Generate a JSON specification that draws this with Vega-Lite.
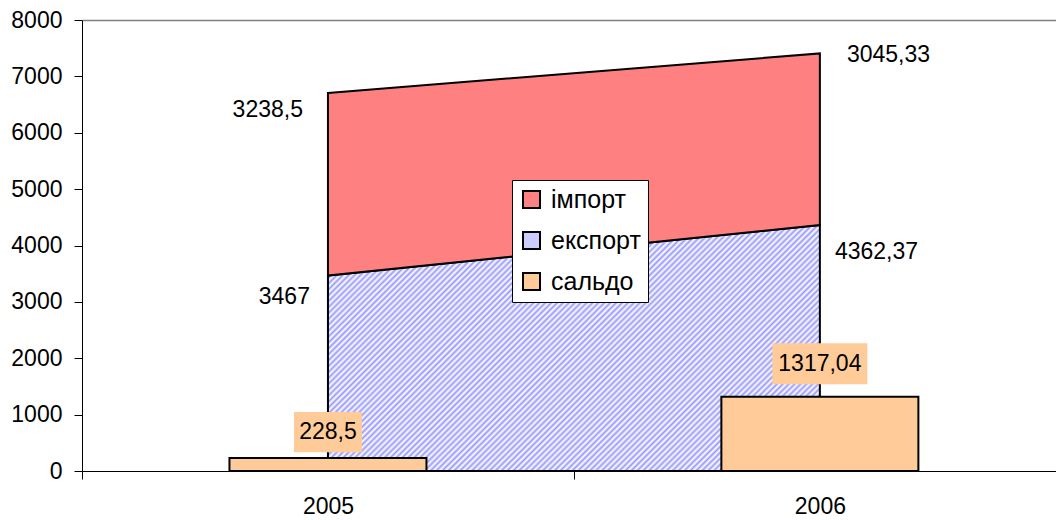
{
"$schema":"https://vega.github.io/schema/vega-lite/v6.json",
"width":974,"height":451,"autosize":"none",
"padding":{"left":82,"top":20,"right":0,"bottom":49},
"background":"white",
"config":{"view":{"stroke":null},"font":"Liberation Sans","text":{"font":"Liberation Sans","fontSize":23,"color":"black"}},
"data":{"values":[
{"year":2005,"series":"експорт","value":3467,"label":"3467"},
{"year":2006,"series":"експорт","value":4362.37,"label":"4362,37"},
{"year":2005,"series":"імпорт","value":3238.5,"label":"3238,5"},
{"year":2006,"series":"імпорт","value":3045.33,"label":"3045,33"},
{"year":2005,"series":"сальдо","value":228.5,"label":"228,5"},
{"year":2006,"series":"сальдо","value":1317.04,"label":"1317,04"}
]},
"encoding":{"x":{"field":"year","type":"quantitative","scale":{"domain":[2004.5,2006.48],"nice":false,"zero":false,"padding":0},
"axis":{"title":null,"values":[2004.5,2005,2005.5,2006],"labelExpr":"datum.value == 2005 ? '2005' : (datum.value == 2006 ? '2006' : '')",
"tickOpacity":{"condition":{"test":"datum.value == 2005 || datum.value == 2006","value":0},"value":1},"tickSize":8,"tickColor":"black","tickWidth":1,
"domainColor":"black","domainWidth":1,"labelFontSize":23,"labelColor":"black","labelPadding":16,"labelFont":"Liberation Sans","grid":false,"labelOverlap":false,"labelFlush":false,"labelBound":false}}},
"layer":[
{"transform":[{"filter":"datum.series == 'експорт'"}],
"mark":{"type":"area","orient":"vertical","opacity":1,"stroke":"black","strokeWidth":2,
"fill":{"gradient":"linear","x1":0,"y1":0,"x2":1.2,"y2":0.6,"stops":[
{"offset":0,"color":"#99f"},{"offset":0.004,"color":"#fff"},{"offset":0.008,"color":"#99f"},{"offset":0.012,"color":"#fff"},{"offset":0.016,"color":"#99f"},{"offset":0.02,"color":"#fff"},{"offset":0.024,"color":"#99f"},{"offset":0.028,"color":"#fff"},{"offset":0.032,"color":"#99f"},{"offset":0.036,"color":"#fff"},
{"offset":0.04,"color":"#99f"},{"offset":0.044,"color":"#fff"},{"offset":0.048,"color":"#99f"},{"offset":0.052,"color":"#fff"},{"offset":0.056,"color":"#99f"},{"offset":0.06,"color":"#fff"},{"offset":0.064,"color":"#99f"},{"offset":0.068,"color":"#fff"},{"offset":0.072,"color":"#99f"},{"offset":0.076,"color":"#fff"},
{"offset":0.08,"color":"#99f"},{"offset":0.084,"color":"#fff"},{"offset":0.088,"color":"#99f"},{"offset":0.092,"color":"#fff"},{"offset":0.096,"color":"#99f"},{"offset":0.1,"color":"#fff"},{"offset":0.104,"color":"#99f"},{"offset":0.108,"color":"#fff"},{"offset":0.112,"color":"#99f"},{"offset":0.116,"color":"#fff"},
{"offset":0.12,"color":"#99f"},{"offset":0.124,"color":"#fff"},{"offset":0.128,"color":"#99f"},{"offset":0.132,"color":"#fff"},{"offset":0.136,"color":"#99f"},{"offset":0.14,"color":"#fff"},{"offset":0.144,"color":"#99f"},{"offset":0.148,"color":"#fff"},{"offset":0.152,"color":"#99f"},{"offset":0.156,"color":"#fff"},
{"offset":0.16,"color":"#99f"},{"offset":0.164,"color":"#fff"},{"offset":0.168,"color":"#99f"},{"offset":0.172,"color":"#fff"},{"offset":0.176,"color":"#99f"},{"offset":0.18,"color":"#fff"},{"offset":0.184,"color":"#99f"},{"offset":0.188,"color":"#fff"},{"offset":0.192,"color":"#99f"},{"offset":0.196,"color":"#fff"},
{"offset":0.2,"color":"#99f"},{"offset":0.204,"color":"#fff"},{"offset":0.208,"color":"#99f"},{"offset":0.212,"color":"#fff"},{"offset":0.216,"color":"#99f"},{"offset":0.22,"color":"#fff"},{"offset":0.224,"color":"#99f"},{"offset":0.228,"color":"#fff"},{"offset":0.232,"color":"#99f"},{"offset":0.236,"color":"#fff"},
{"offset":0.24,"color":"#99f"},{"offset":0.244,"color":"#fff"},{"offset":0.248,"color":"#99f"},{"offset":0.252,"color":"#fff"},{"offset":0.256,"color":"#99f"},{"offset":0.26,"color":"#fff"},{"offset":0.264,"color":"#99f"},{"offset":0.268,"color":"#fff"},{"offset":0.272,"color":"#99f"},{"offset":0.276,"color":"#fff"},
{"offset":0.28,"color":"#99f"},{"offset":0.284,"color":"#fff"},{"offset":0.288,"color":"#99f"},{"offset":0.292,"color":"#fff"},{"offset":0.296,"color":"#99f"},{"offset":0.3,"color":"#fff"},{"offset":0.304,"color":"#99f"},{"offset":0.308,"color":"#fff"},{"offset":0.312,"color":"#99f"},{"offset":0.316,"color":"#fff"},
{"offset":0.32,"color":"#99f"},{"offset":0.324,"color":"#fff"},{"offset":0.328,"color":"#99f"},{"offset":0.332,"color":"#fff"},{"offset":0.336,"color":"#99f"},{"offset":0.34,"color":"#fff"},{"offset":0.344,"color":"#99f"},{"offset":0.348,"color":"#fff"},{"offset":0.352,"color":"#99f"},{"offset":0.356,"color":"#fff"},
{"offset":0.36,"color":"#99f"},{"offset":0.364,"color":"#fff"},{"offset":0.368,"color":"#99f"},{"offset":0.372,"color":"#fff"},{"offset":0.376,"color":"#99f"},{"offset":0.38,"color":"#fff"},{"offset":0.384,"color":"#99f"},{"offset":0.388,"color":"#fff"},{"offset":0.392,"color":"#99f"},{"offset":0.396,"color":"#fff"},
{"offset":0.4,"color":"#99f"},{"offset":0.404,"color":"#fff"},{"offset":0.408,"color":"#99f"},{"offset":0.412,"color":"#fff"},{"offset":0.416,"color":"#99f"},{"offset":0.42,"color":"#fff"},{"offset":0.424,"color":"#99f"},{"offset":0.428,"color":"#fff"},{"offset":0.432,"color":"#99f"},{"offset":0.436,"color":"#fff"},
{"offset":0.44,"color":"#99f"},{"offset":0.444,"color":"#fff"},{"offset":0.448,"color":"#99f"},{"offset":0.452,"color":"#fff"},{"offset":0.456,"color":"#99f"},{"offset":0.46,"color":"#fff"},{"offset":0.464,"color":"#99f"},{"offset":0.468,"color":"#fff"},{"offset":0.472,"color":"#99f"},{"offset":0.476,"color":"#fff"},
{"offset":0.48,"color":"#99f"},{"offset":0.484,"color":"#fff"},{"offset":0.488,"color":"#99f"},{"offset":0.492,"color":"#fff"},{"offset":0.496,"color":"#99f"},{"offset":0.5,"color":"#fff"},{"offset":0.504,"color":"#99f"},{"offset":0.508,"color":"#fff"},{"offset":0.512,"color":"#99f"},{"offset":0.516,"color":"#fff"},
{"offset":0.52,"color":"#99f"},{"offset":0.524,"color":"#fff"},{"offset":0.528,"color":"#99f"},{"offset":0.532,"color":"#fff"},{"offset":0.536,"color":"#99f"},{"offset":0.54,"color":"#fff"},{"offset":0.544,"color":"#99f"},{"offset":0.548,"color":"#fff"},{"offset":0.552,"color":"#99f"},{"offset":0.556,"color":"#fff"},
{"offset":0.56,"color":"#99f"},{"offset":0.564,"color":"#fff"},{"offset":0.568,"color":"#99f"},{"offset":0.572,"color":"#fff"},{"offset":0.576,"color":"#99f"},{"offset":0.58,"color":"#fff"},{"offset":0.584,"color":"#99f"},{"offset":0.588,"color":"#fff"},{"offset":0.592,"color":"#99f"},{"offset":0.596,"color":"#fff"},
{"offset":0.6,"color":"#99f"},{"offset":0.604,"color":"#fff"},{"offset":0.608,"color":"#99f"},{"offset":0.612,"color":"#fff"},{"offset":0.616,"color":"#99f"},{"offset":0.62,"color":"#fff"},{"offset":0.624,"color":"#99f"},{"offset":0.628,"color":"#fff"},{"offset":0.632,"color":"#99f"},{"offset":0.636,"color":"#fff"},
{"offset":0.64,"color":"#99f"},{"offset":0.644,"color":"#fff"},{"offset":0.648,"color":"#99f"},{"offset":0.652,"color":"#fff"},{"offset":0.656,"color":"#99f"},{"offset":0.66,"color":"#fff"},{"offset":0.664,"color":"#99f"},{"offset":0.668,"color":"#fff"},{"offset":0.672,"color":"#99f"},{"offset":0.676,"color":"#fff"},
{"offset":0.68,"color":"#99f"},{"offset":0.684,"color":"#fff"},{"offset":0.688,"color":"#99f"},{"offset":0.692,"color":"#fff"},{"offset":0.696,"color":"#99f"},{"offset":0.7,"color":"#fff"},{"offset":0.704,"color":"#99f"},{"offset":0.708,"color":"#fff"},{"offset":0.712,"color":"#99f"},{"offset":0.716,"color":"#fff"},
{"offset":0.72,"color":"#99f"},{"offset":0.724,"color":"#fff"},{"offset":0.728,"color":"#99f"},{"offset":0.732,"color":"#fff"},{"offset":0.736,"color":"#99f"},{"offset":0.74,"color":"#fff"},{"offset":0.744,"color":"#99f"},{"offset":0.748,"color":"#fff"},{"offset":0.752,"color":"#99f"},{"offset":0.756,"color":"#fff"},
{"offset":0.76,"color":"#99f"},{"offset":0.764,"color":"#fff"},{"offset":0.768,"color":"#99f"},{"offset":0.772,"color":"#fff"},{"offset":0.776,"color":"#99f"},{"offset":0.78,"color":"#fff"},{"offset":0.784,"color":"#99f"},{"offset":0.788,"color":"#fff"},{"offset":0.792,"color":"#99f"},{"offset":0.796,"color":"#fff"},
{"offset":0.8,"color":"#99f"},{"offset":0.804,"color":"#fff"},{"offset":0.808,"color":"#99f"},{"offset":0.812,"color":"#fff"},{"offset":0.816,"color":"#99f"},{"offset":0.82,"color":"#fff"},{"offset":0.824,"color":"#99f"},{"offset":0.828,"color":"#fff"},{"offset":0.832,"color":"#99f"},{"offset":0.836,"color":"#fff"},
{"offset":0.84,"color":"#99f"},{"offset":0.844,"color":"#fff"},{"offset":0.848,"color":"#99f"},{"offset":0.852,"color":"#fff"},{"offset":0.856,"color":"#99f"},{"offset":0.86,"color":"#fff"},{"offset":0.864,"color":"#99f"},{"offset":0.868,"color":"#fff"},{"offset":0.872,"color":"#99f"},{"offset":0.876,"color":"#fff"},
{"offset":0.88,"color":"#99f"},{"offset":0.884,"color":"#fff"},{"offset":0.888,"color":"#99f"},{"offset":0.892,"color":"#fff"},{"offset":0.896,"color":"#99f"},{"offset":0.9,"color":"#fff"},{"offset":0.904,"color":"#99f"},{"offset":0.908,"color":"#fff"},{"offset":0.912,"color":"#99f"},{"offset":0.916,"color":"#fff"},
{"offset":0.92,"color":"#99f"},{"offset":0.924,"color":"#fff"},{"offset":0.928,"color":"#99f"},{"offset":0.932,"color":"#fff"},{"offset":0.936,"color":"#99f"},{"offset":0.94,"color":"#fff"},{"offset":0.944,"color":"#99f"},{"offset":0.948,"color":"#fff"},{"offset":0.952,"color":"#99f"},{"offset":0.956,"color":"#fff"},
{"offset":0.96,"color":"#99f"},{"offset":0.964,"color":"#fff"},{"offset":0.968,"color":"#99f"},{"offset":0.972,"color":"#fff"},{"offset":0.976,"color":"#99f"},{"offset":0.98,"color":"#fff"},{"offset":0.984,"color":"#99f"},{"offset":0.988,"color":"#fff"},{"offset":0.992,"color":"#99f"},{"offset":0.996,"color":"#fff"},
{"offset":1,"color":"#99f"}
]}},
"encoding":{"y":{"field":"value","type":"quantitative","scale":{"domain":[0,8000],"nice":false,"padding":0},
"axis":{"title":null,"values":[0,1000,2000,3000,4000,5000,6000,7000,8000],"format":"d","tickSize":8,"tickColor":"black","domainColor":"black","labelFontSize":23,"labelColor":"black","labelPadding":12,"labelFont":"Liberation Sans","grid":true,"gridColor":"#808080","gridWidth":1.5,"gridOpacity":{"condition":{"test":"datum.value == 8000","value":1},"value":0}}}}},
{"transform":[{"filter":"datum.series != 'сальдо'"},{"stack":"value","groupby":["year"],"sort":[{"field":"series","order":"ascending"}],"as":["v0","v1"]},{"filter":"datum.series == 'імпорт'"}],
"mark":{"type":"area","orient":"vertical","opacity":1,"stroke":"black","strokeWidth":2},
"encoding":{"y":{"field":"v1","type":"quantitative","scale":{"domain":[0,8000],"nice":false,"padding":0},"title":null},"y2":{"field":"v0"},
"color":{"field":"series","type":"nominal","scale":{"domain":["імпорт","експорт","сальдо"],"range":["#ff8080","#ccccff","#ffcc99"]},
"legend":{"title":null,"orient":"none","legendX":430,"legendY":160,"direction":"vertical","symbolType":"square","symbolSize":289,"symbolStrokeColor":"black","symbolStrokeWidth":2,"symbolOpacity":1,"labelFontSize":25,"labelFont":"Liberation Sans","labelColor":"black","labelOffset":7,"rowPadding":15,"padding":7,"strokeColor":"black","fillColor":"white","labelLimit":400}}}},
{"transform":[{"filter":"datum.series == 'сальдо'"}],
"mark":{"type":"bar","width":197,"opacity":1,"stroke":"black","strokeWidth":2},
"encoding":{"y":{"field":"value","type":"quantitative","scale":{"domain":[0,8000],"nice":false,"padding":0},"title":null},"color":{"field":"series","type":"nominal"}}},
{"transform":[{"filter":"datum.series == 'сальдо' && datum.year == 2005"}],
"mark":{"type":"point","filled":true,"color":"#ffcc99","opacity":1,"strokeWidth":0,"size":4624,"shape":"M-1,-1.353H1V-0.176H-1Z"},
"encoding":{"y":{"field":"value","type":"quantitative","scale":{"domain":[0,8000],"nice":false,"padding":0},"title":null}}},
{"transform":[{"filter":"datum.series == 'сальдо' && datum.year == 2006"}],
"mark":{"type":"point","filled":true,"color":"#ffcc99","opacity":1,"strokeWidth":0,"size":9025,"shape":"M-1,-1.126H1V-0.263H-1Z"},
"encoding":{"y":{"field":"value","type":"quantitative","scale":{"domain":[0,8000],"nice":false,"padding":0},"title":null}}},
{"transform":[{"filter":"datum.series == 'сальдо' && datum.year == 2005"}],
"mark":{"type":"text","align":"center","baseline":"middle","dy":-26,"fontSize":23},
"encoding":{"y":{"field":"value","type":"quantitative","scale":{"domain":[0,8000],"nice":false,"padding":0},"title":null},"text":{"field":"label"}}},
{"transform":[{"filter":"datum.series == 'сальдо' && datum.year == 2006"}],
"mark":{"type":"text","align":"center","baseline":"middle","dy":-33,"fontSize":23},
"encoding":{"y":{"field":"value","type":"quantitative","scale":{"domain":[0,8000],"nice":false,"padding":0},"title":null},"text":{"field":"label"}}},
{"transform":[{"filter":"datum.series != 'сальдо'"},{"stack":"value","groupby":["year"],"sort":[{"field":"series","order":"ascending"}],"as":["v0","v1"]},{"filter":"datum.series == 'імпорт' && datum.year == 2005"}],
"mark":{"type":"text","align":"right","baseline":"middle","dx":-25,"dy":17,"fontSize":23},
"encoding":{"y":{"field":"v1","type":"quantitative","scale":{"domain":[0,8000],"nice":false,"padding":0},"title":null},"text":{"field":"label"}}},
{"transform":[{"filter":"datum.series != 'сальдо'"},{"stack":"value","groupby":["year"],"sort":[{"field":"series","order":"ascending"}],"as":["v0","v1"]},{"filter":"datum.series == 'експорт' && datum.year == 2005"}],
"mark":{"type":"text","align":"right","baseline":"middle","dx":-18,"dy":21,"fontSize":23},
"encoding":{"y":{"field":"v1","type":"quantitative","scale":{"domain":[0,8000],"nice":false,"padding":0},"title":null},"text":{"field":"label"}}},
{"transform":[{"filter":"datum.series != 'сальдо'"},{"stack":"value","groupby":["year"],"sort":[{"field":"series","order":"ascending"}],"as":["v0","v1"]},{"filter":"datum.series == 'імпорт' && datum.year == 2006"}],
"mark":{"type":"text","align":"left","baseline":"middle","dx":27,"dy":2,"fontSize":23},
"encoding":{"y":{"field":"v1","type":"quantitative","scale":{"domain":[0,8000],"nice":false,"padding":0},"title":null},"text":{"field":"label"}}},
{"transform":[{"filter":"datum.series != 'сальдо'"},{"stack":"value","groupby":["year"],"sort":[{"field":"series","order":"ascending"}],"as":["v0","v1"]},{"filter":"datum.series == 'експорт' && datum.year == 2006"}],
"mark":{"type":"text","align":"left","baseline":"middle","dx":15,"dy":27,"fontSize":23},
"encoding":{"y":{"field":"v1","type":"quantitative","scale":{"domain":[0,8000],"nice":false,"padding":0},"title":null},"text":{"field":"label"}}}
]
}
